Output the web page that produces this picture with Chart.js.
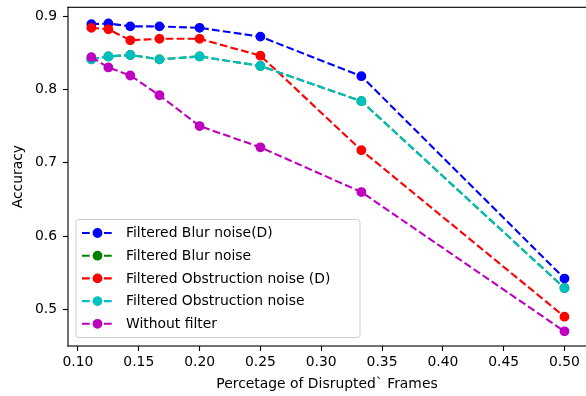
<!DOCTYPE html>
<html>
<head>
<meta charset="utf-8">
<script src="https://cdn.jsdelivr.net/npm/chart.js@4.4.0/dist/chart.umd.min.js"></script>
<style>
    html, body { margin: 0; padding: 0; background: #fff; }
    #wrap { width: 586px; height: 396px; }
</style>
</head>
<body>
<div id="wrap"><canvas id="chart" width="586" height="396"></canvas></div>
<script>
// Fraction of disrupted frames (x axis)
const disruptedFrames = [0.111, 0.125, 0.143, 0.167, 0.2, 0.25, 0.333, 0.5];

// Accuracy per series
const blurFilteredD = [0.889, 0.890, 0.886, 0.886, 0.884, 0.872, 0.818, 0.542];
const blurFiltered = [0.841, 0.845, 0.847, 0.841, 0.845, 0.832, 0.784, 0.529];
const obstructionFilteredD = [0.884, 0.882, 0.867, 0.869, 0.869, 0.846, 0.717, 0.490];
const obstructionFiltered = [0.841, 0.845, 0.847, 0.841, 0.845, 0.832, 0.784, 0.529];
const withoutFilter = [0.844, 0.830, 0.819, 0.792, 0.750, 0.721, 0.660, 0.470];

const seriesLabels = [
    'Filtered Blur noise(D)',
    'Filtered Blur noise',
    'Filtered Obstruction noise (D)',
    'Filtered Obstruction noise',
    'Without filter'
];
const seriesValues = [blurFilteredD, blurFiltered, obstructionFilteredD, obstructionFiltered, withoutFilter];
const seriesColors = ['#0000ff', '#008000', '#ff0000', '#00bfbf', '#bf00bf'];

const xTicks = [0.10, 0.15, 0.20, 0.25, 0.30, 0.35, 0.40, 0.45, 0.50];
const yTicks = [0.5, 0.6, 0.7, 0.8, 0.9];

const FONT = { family: '"DejaVu Sans", sans-serif', size: 13.9 };

// Build datasets (later series drawn on top, like matplotlib)
const datasets = seriesLabels.map((label, i) => ({
    label: label,
    data: disruptedFrames.map((x, j) => ({ x: x, y: seriesValues[i][j] })),
    borderColor: seriesColors[i],
    backgroundColor: seriesColors[i],
    pointBackgroundColor: seriesColors[i],
    pointBorderColor: seriesColors[i],
    borderWidth: 2.1,
    borderDash: [7.7, 3.3],
    pointRadius: 4.2,
    pointBorderWidth: 1.4,
    pointHoverRadius: 4.2,
    fill: false,
    tension: 0,
    order: seriesLabels.length - i
}));

// Spines: left, bottom, top (the right one falls off the canvas)
const spines = {
    id: 'spines',
    afterDraw(chart) {
        const ctx = chart.ctx;
        const a = chart.chartArea;
        const w = 1.1;
        ctx.save();
        ctx.fillStyle = '#000';
        ctx.fillRect(a.left - w / 2, a.top - w / 2, w, a.bottom - a.top + w);
        ctx.fillRect(a.left - w / 2, a.top - w / 2, a.right - a.left + w, w);
        ctx.fillRect(a.left - w / 2, a.bottom - w / 2, a.right - a.left + w, w);
        ctx.restore();
    }
};

// Matplotlib-like legend inside the axes
const boxLegend = {
    id: 'boxLegend',
    afterDraw(chart) {
        const ctx = chart.ctx;
        const left = 76, top = 219.5, width = 284, height = 118;
        ctx.save();
        ctx.beginPath();
        ctx.roundRect(left, top, width, height, 3);
        ctx.fillStyle = 'rgba(255,255,255,0.8)';
        ctx.fill();
        ctx.strokeStyle = '#cccccc';
        ctx.lineWidth = 1;
        ctx.stroke();

        chart.data.datasets.forEach((ds, i) => {
            const y = top + 13.5 + i * 22.7;
            ctx.strokeStyle = ds.borderColor;
            ctx.lineWidth = ds.borderWidth;
            ctx.setLineDash(ds.borderDash);
            ctx.beginPath();
            ctx.moveTo(82, y);
            ctx.lineTo(113, y);
            ctx.stroke();
            ctx.setLineDash([]);

            ctx.beginPath();
            ctx.arc(97.5, y, ds.pointRadius, 0, Math.PI * 2);
            ctx.fillStyle = ds.pointBackgroundColor;
            ctx.fill();
            ctx.lineWidth = ds.pointBorderWidth;
            ctx.stroke();

            ctx.fillStyle = '#000';
            ctx.font = FONT.size + 'px ' + FONT.family;
            ctx.textBaseline = 'middle';
            ctx.textAlign = 'left';
            ctx.fillText(ds.label, 126, y + 0.5);
        });
        ctx.restore();
    }
};

new Chart(document.getElementById('chart'), {
    type: 'line',
    data: { datasets: datasets },
    options: {
        responsive: false,
        animation: false,
        devicePixelRatio: 1,
        layout: { autoPadding: false, padding: { top: 7.3, right: 0, bottom: 0, left: 0 } },
        plugins: {
            legend: { display: false },
            tooltip: { enabled: false }
        },
        scales: {
            x: {
                type: 'linear',
                min: 0.0918,
                max: 0.5177,
                afterBuildTicks: scale => { scale.ticks = xTicks.map(v => ({ value: v })); },
                afterFit: scale => {
                    scale.height = 50;
                    scale.paddingLeft = 0;
                    scale.paddingRight = 0;
                },
                ticks: {
                    callback: v => v.toFixed(2),
                    color: '#000',
                    font: FONT,
                    padding: 3,
                    maxRotation: 0,
                    autoSkip: false
                },
                grid: {
                    drawOnChartArea: false,
                    tickLength: 5,
                    tickColor: '#000',
                    tickWidth: 1.1
                },
                border: { display: false },
                title: {
                    display: true,
                    text: 'Percetage of Disrupted` Frames',
                    color: '#000',
                    font: FONT,
                    padding: { top: 0, bottom: 3 }
                }
            },
            y: {
                min: 0.45,
                max: 0.912,
                afterBuildTicks: scale => { scale.ticks = yTicks.map(v => ({ value: v })); },
                afterFit: scale => {
                    scale.width = 68;
                    scale.paddingTop = 0;
                    scale.paddingBottom = 0;
                },
                ticks: {
                    callback: v => v.toFixed(1),
                    color: '#000',
                    font: FONT,
                    padding: 6
                },
                grid: {
                    drawOnChartArea: false,
                    tickLength: 5,
                    tickColor: '#000',
                    tickWidth: 1.1
                },
                border: { display: false },
                title: {
                    display: true,
                    text: 'Accuracy',
                    color: '#000',
                    font: FONT,
                    padding: { top: 10, bottom: 0 }
                }
            }
        }
    },
    plugins: [spines, boxLegend]
});
</script>
</body>
</html>
